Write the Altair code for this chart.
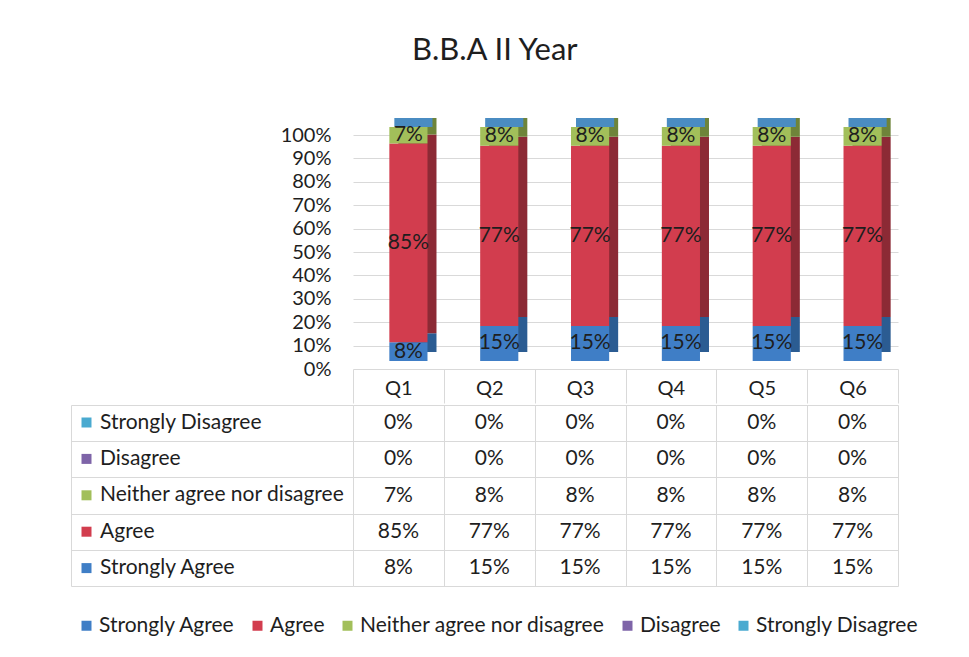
import altair as alt
import pandas as pd

# ---------------- data ----------------
questions = ["Q1", "Q2", "Q3", "Q4", "Q5", "Q6"]
series = ["Strongly Agree", "Agree", "Neither agree nor disagree", "Disagree", "Strongly Disagree"]
strongly_agree = [0.08, 0.15, 0.15, 0.15, 0.15, 0.15]
agree = [0.85, 0.77, 0.77, 0.77, 0.77, 0.77]
neither = [0.07, 0.08, 0.08, 0.08, 0.08, 0.08]
disagree = [0.0, 0.0, 0.0, 0.0, 0.0, 0.0]
strongly_disagree = [0.0, 0.0, 0.0, 0.0, 0.0, 0.0]
y_ticks = [0.0, 0.1, 0.2, 0.3, 0.4, 0.5, 0.6, 0.7, 0.8, 0.9, 1.0]
table_rows = ["Strongly Disagree", "Disagree", "Neither agree nor disagree", "Agree", "Strongly Agree"]

# ---------------- styles ----------------
front_colors = ["#3f7ec6", "#d23d4e", "#a2bf5a", "#7e64a8", "#4aaad0"]
side_colors = ["#2b5c92", "#8c2a35", "#6e843a", "#55437a", "#2f7c99"]
cap_color = "#4a8cc2"
FONT = "Lato"
TXT = "#1e1e1e"
GRID = "#d9d9d9"
FS = 21

values_by_series = [strongly_agree, agree, neither, disagree, strongly_disagree]
rows = []
for si, (s, vals) in enumerate(zip(series, values_by_series)):
    for q, v in zip(questions, vals):
        rows.append({"q": q, "series": s, "value": v, "order": si})
df = pd.DataFrame(rows)

xs_bars = alt.X("q:N", sort=questions,
                scale=alt.Scale(domain=questions, paddingInner=0, paddingOuter=0),
                axis=alt.Axis(title=None, labelAngle=0, labelFontSize=FS - 1, labelFont=FONT,
                              labelColor=TXT, domain=False, ticks=True, tickBand="extent",
                              tickSize=34, tickColor=GRID, labelPadding=-25, grid=False))
ysc = alt.Scale(domain=[0, 1], nice=False)
y_axis = alt.Axis(title=None, format="%", values=y_ticks, labelFontSize=FS - 1, labelFont=FONT,
                  labelColor=TXT, domain=False, ticks=False, labelPadding=22,
                  labelOverlap=False, grid=True, gridColor=GRID)

color_front = alt.Color("series:N", scale=alt.Scale(domain=series, range=front_colors), legend=None)
color_side = alt.Color("series:N", scale=alt.Scale(domain=series, range=side_colors), legend=None)

base = alt.Chart(df)
side = base.mark_bar(width=alt.RelativeBandSize(0.42), xOffset=19, yOffset=-17, y2Offset=-17).encode(
    x=xs_bars,
    y=alt.Y("value:Q", stack="zero", scale=ysc, axis=y_axis),
    color=color_side,
    order=alt.Order("order:Q"),
)
cap = base.mark_bar(width=alt.RelativeBandSize(0.42), color=cap_color, xOffset=15,
                    yOffset=-8, y2Offset=-17).encode(
    x=xs_bars,
    y=alt.Y("total:Q", scale=ysc, axis=y_axis),
    y2="total:Q",
).transform_aggregate(total="sum(value)", groupby=["q"])
front = base.mark_bar(width=alt.RelativeBandSize(0.42), xOffset=10, yOffset=-8, y2Offset=-8).encode(
    x=xs_bars,
    y=alt.Y("value:Q", stack="zero", scale=ysc, axis=y_axis),
    color=color_front,
    order=alt.Order("order:Q"),
)
labels = base.transform_filter("datum.value > 0").transform_stack(
    stack="value", groupby=["q"], as_=["lo", "hi"], sort=[alt.SortField("order")]
).transform_calculate(mid="(datum.lo + datum.hi) / 2").mark_text(
    font=FONT, fontSize=FS, color=TXT, dx=10, dy=-8
).encode(
    x=xs_bars,
    y=alt.Y("mid:Q", scale=ysc, axis=y_axis),
    text=alt.Text("value:Q", format=".0%"),
)
bars = alt.layer(side, cap, front, labels).resolve_scale(color="independent").properties(
    width=545, height=234)

# ---------------- data table ----------------
xs_tab = alt.X("q:N", sort=questions,
               scale=alt.Scale(domain=questions, paddingInner=0, paddingOuter=0),
               axis=alt.Axis(title=None, labels=False, ticks=False, domain=False,
                             grid=True, gridColor=GRID, tickBand="extent"))
ys_tab = alt.Y("series:N", scale=alt.Scale(domain=table_rows, paddingInner=0, paddingOuter=0),
               axis=alt.Axis(title=None, orient="left", labels=False, domain=False,
                             ticks=True, tickSize=282, tickColor=GRID, tickBand="extent",
                             grid=True, gridColor=GRID))
tab_text = alt.Chart(df).mark_text(font=FONT, fontSize=FS, color=TXT).encode(
    x=xs_tab, y=ys_tab, text=alt.Text("value:Q", format=".0%"))
tab_key = alt.Chart(df).mark_square(opacity=0).encode(
    x=xs_tab,
    y=alt.Y("series:N", scale=alt.Scale(domain=table_rows, paddingInner=0, paddingOuter=0),
            axis=alt.Axis(title=None, orient="left", offset=282, labels=False, ticks=False,
                          grid=False, domain=True, domainColor=GRID)),
    color=alt.Color("series:N",
                    scale=alt.Scale(domain=table_rows, range=front_colors[::-1]),
                    legend=alt.Legend(orient="none", legendX=-277, legendY=7, direction="vertical",
                                      title=None, rowPadding=14.4, labelOffset=3, symbolOpacity=1,
                                      symbolType="square", symbolSize=100, symbolStrokeWidth=0,
                                      labelFont=FONT, labelFontSize=FS, labelColor=TXT,
                                      labelLimit=400)),
)
table = alt.layer(tab_text, tab_key).resolve_axis(y="independent").properties(width=545, height=181)

# ---------------- bottom legend ----------------
leg = alt.Chart(df).mark_square(opacity=0).encode(
    color=alt.Color("series:N", scale=alt.Scale(domain=series, range=front_colors),
                    legend=alt.Legend(orient="none", legendX=-277, legendY=25, direction="horizontal",
                                      title=None, columnPadding=12, labelOffset=2, symbolOpacity=1,
                                      symbolType="square", symbolSize=100, symbolStrokeWidth=0,
                                      labelFont=FONT, labelFontSize=FS, labelColor=TXT,
                                      labelLimit=400)),
).properties(width=545, height=1)

chart = alt.vconcat(bars, table, leg, spacing=0).resolve_scale(
    color="independent", x="independent", y="independent"
).resolve_legend(color="independent").properties(
    title=alt.TitleParams("B.B.A II Year", font=FONT, fontSize=31, fontWeight="normal",
                          color=TXT, anchor="middle", offset=51),
    padding={"left": 62, "top": 27, "right": 10, "bottom": 5},
).configure_view(stroke=None)

chart.save("out.html", embed_options={"renderer": "svg", "actions": False})
